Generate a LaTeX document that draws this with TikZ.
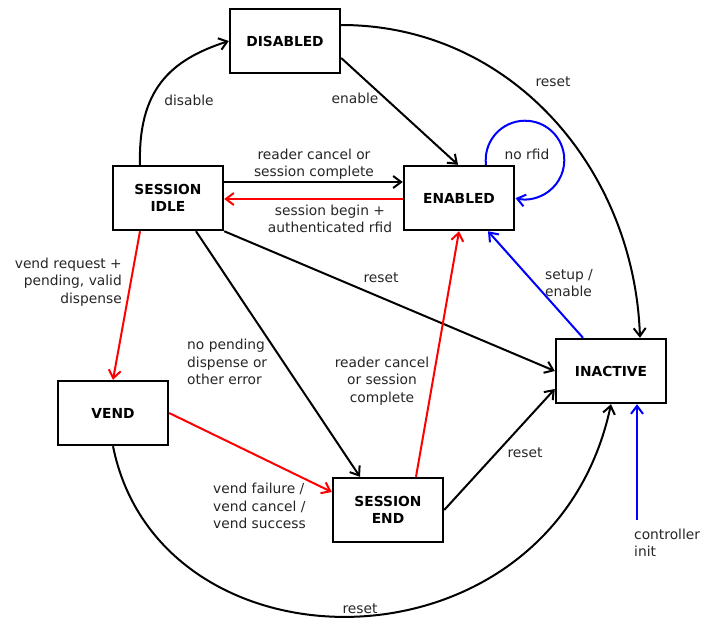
\documentclass[tikz,border=0pt]{standalone}
\usepackage{fontspec}
\setmainfont{DejaVu Sans}
\usetikzlibrary{arrows.meta}
\begin{document}
\begin{tikzpicture}[x=1pt,y=1pt,
  every node/.style={font=\fontsize{13.8}{17.4}\selectfont},
  state/.style={draw,line width=2.4pt,minimum width=110pt,minimum height=64pt,inner sep=0pt,align=center,font=\fontsize{13.8}{17.4}\selectfont\bfseries},
  lbl/.style={inner sep=0pt,text=black!85},
  edge/.style={line width=2pt,-{Straight Barb[length=8pt,width=12pt,line width=2pt]}},
  redge/.style={edge,red},
  bedge/.style={edge,blue}]
\useasboundingbox (0,0) rectangle (702,-622);
\node[state] (dis) at (285,-41) {DISABLED};
\node[state] (idle) at (168,-198) {SESSION\\IDLE};
\node[state] (en) at (459,-198) {ENABLED};
\node[state] (ina) at (611,-371) {INACTIVE};
\node[state] (vend) at (113,-413) {VEND};
\node[state] (send) at (388,-510) {SESSION\\END};
\coordinate (init) at (637,-520);

% edges
\draw[edge] ([xshift=-28pt]idle.north) .. controls (138,-90) and (170,-60) .. (dis.west);
\draw[edge] ([yshift=-17pt]dis.east) -- ([xshift=-1pt]en.north);
\draw[edge] ([yshift=16pt]dis.east) to[out=0,in=92] ([xshift=29pt]ina.north);
\draw[bedge] ([xshift=27pt]en.north) arc[start angle=187,end angle=-104,radius=39.3];
\draw[edge] ([yshift=16pt]idle.east) -- ([yshift=16pt]en.west);
\draw[redge] ([yshift=-1pt]en.west) -- ([yshift=-1pt]idle.east);
\draw[edge] (idle.south east) -- (ina.west);
\draw[redge] ([xshift=-28pt]idle.south) -- (vend.north);
\draw[edge] ([xshift=28pt]idle.south) -- ([xshift=-28pt]send.north);
\draw[redge] (vend.east) -- ([yshift=18pt]send.west);
\draw[redge] ([xshift=28pt]send.north) -- (en.south);
\draw[bedge] ([xshift=-28pt]ina.north) -- ([xshift=29pt]en.south);
\draw[edge] (send.east) -- ([yshift=-18pt]ina.west);
\draw[edge] (vend.south) .. controls (160,-680) and (552,-680) .. (ina.south);
\draw[bedge] (init) -- ([xshift=26pt]ina.south);

% labels
\node[lbl] (l1) at (189,-100) {disable};
\node[lbl] (l2) at (355,-98) {enable};
\node[lbl] (l3) at (553,-82) {reset};
\node[lbl] (l4) at (527,-154) {no rfid};
\node[lbl,align=center] (l5) at (314,-164) {reader cancel or\\session complete};
\node[lbl,align=center] (l6) at (330,-219) {session begin +\\authenticated rfid};
\node[lbl] (l7) at (381,-278) {reset};
\node[lbl,align=right,anchor=east] (l8) at (122,-282) {vend request +\\pending, valid\\dispense};
\node[lbl,align=left,anchor=west] (l9) at (187,-362) {no pending\\dispense or\\other error};
\node[lbl,align=center] (l10) at (382,-381) {reader cancel\\or session\\complete};
\node[lbl,align=left,anchor=west] (l11) at (545,-283) {setup /\\enable};
\node[lbl] (l12) at (525,-453) {reset};
\node[lbl,align=left,anchor=west] (l13) at (213,-506) {vend failure /\\vend cancel /\\vend success};
\node[lbl] (l14) at (360,-609) {reset};
\node[lbl,align=left,anchor=west] (l15) at (634,-543) {controller\\init};
\end{tikzpicture}
\end{document}
